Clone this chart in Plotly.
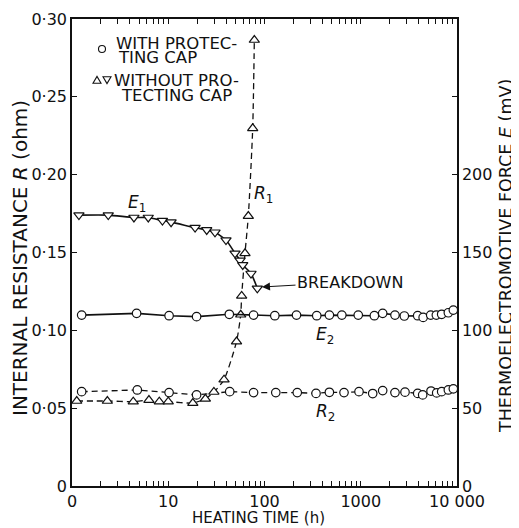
import plotly.graph_objects as go

# ---------------- data ----------------
# E1: thermo-EMF (mV), without protecting cap (inverted triangles)
e1_t = [1.18, 2.38, 4.4, 6.2, 8.7, 10.7, 19.0, 25.1, 30.6, 39.8, 49.4, 55.7, 59.4, 72.4, 84.2]
e1_v = [174, 174, 172.5, 172.5, 170.5, 169.5, 166, 164.5, 163, 158, 149.5, 145, 142, 136.5, 127]

# R1: internal resistance (ohm), without protecting cap (triangles)
r1_t = [1.12, 2.33, 4.33, 6.3, 8.07, 10.0, 18.0, 24.3, 29.8, 38.0, 51.2, 56.6, 57.9, 62.7, 67.9, 75.4, 78.4]
r1_v = [0.0546, 0.0546, 0.0542, 0.0552, 0.0542, 0.0542, 0.0533, 0.0560, 0.0604, 0.0683, 0.0928,
        0.1100, 0.1221, 0.1495, 0.1734, 0.2298, 0.2865]

# E2: thermo-EMF (mV), with protecting cap (circles)
e2_t = [1.26, 4.69, 10.2, 19.7, 43.1, 77, 128, 215, 349, 472, 636, 942, 1385, 1690, 2268, 2835,
        3905, 4450, 5330, 6100, 6930, 8130, 9160]
e2_v = [109.8, 110.9, 109.4, 108.8, 110.3, 109.8, 109.4, 109.8, 109.4, 109.8, 109.8, 109.8, 109.4,
        110.9, 109.8, 109.2, 109.4, 108.3, 109.8, 109.8, 110.3, 111.3, 113.0]

# R2: internal resistance (ohm), with protecting cap (circles)
r2_t = [1.26, 4.77, 10.2, 19.7, 43.5, 77, 131, 219, 343, 472, 670, 959, 1331, 1690, 2268, 2884,
        3905, 4400, 5370, 6150, 6930, 8130, 9160]
r2_v = [0.0606, 0.0617, 0.0600, 0.0585, 0.0606, 0.0600, 0.0600, 0.0600, 0.0595, 0.0602, 0.0600,
        0.0606, 0.0594, 0.0613, 0.0600, 0.0603, 0.0595, 0.0585, 0.0610, 0.0598, 0.0606, 0.0617, 0.0624]

# axis ticks
x_major = [1, 10, 100, 1000, 10000]
x_major_text = ["0", "10", "100", "1000", "10 000"]
r_ticks = [0, 0.05, 0.10, 0.15, 0.20, 0.25, 0.30]
r_tick_text = ["0", "0·05", "0·10", "0·15", "0·20", "0·25", "0·30"]
e_ticks = [0, 50, 100, 150, 200, 250, 300]
e_tick_text = ["0", "50", "100", "150", "200", "", ""]

# ---------------- figure ----------------
FONT = "DejaVu Sans"
BLACK = "#111111"

x_tickvals, x_ticktext = [], []
for d in [1, 10, 100, 1000]:
    for m in range(1, 10):
        x_tickvals.append(d * m)
        x_ticktext.append(x_major_text[x_major.index(d)] if m == 1 else "")
x_tickvals.append(10000)
x_ticktext.append(x_major_text[-1])

fig = go.Figure()

mk_circle = dict(symbol="circle", size=8.5, color="white", line=dict(color=BLACK, width=1.2))
mk_up = dict(symbol="triangle-up", size=9, color="white", line=dict(color=BLACK, width=1.2))
mk_down = dict(symbol="triangle-down", size=9, color="white", line=dict(color=BLACK, width=1.2))

fig.add_trace(go.Scatter(x=r2_t, y=r2_v, mode="lines+markers", yaxis="y",
                         line=dict(color=BLACK, width=1.3, dash="6px,4px"), marker=mk_circle))
fig.add_trace(go.Scatter(x=r1_t, y=r1_v, mode="lines+markers", yaxis="y",
                         line=dict(color=BLACK, width=1.3, dash="6px,4px", shape="spline", smoothing=0.6),
                         marker=mk_up))
fig.add_trace(go.Scatter(x=e2_t, y=e2_v, mode="lines+markers", yaxis="y2",
                         line=dict(color=BLACK, width=1.6), marker=mk_circle))
fig.add_trace(go.Scatter(x=e1_t, y=e1_v, mode="lines+markers", yaxis="y2",
                         line=dict(color=BLACK, width=1.6, shape="spline", smoothing=0.6),
                         marker=mk_down))

# the page body adds an 8 px margin around the figure
OFF = 8
PX0, PX1, PY0, PY1 = 72, 457, 19, 486   # plot area in screen pixels
W, H = 519 - OFF, 528 - OFF
L, T = PX0 - OFF, PY0 - OFF
PW, PH = PX1 - PX0, PY1 - PY0
R, B = W - L - PW, H - T - PH


def px(xp):
    return (xp - PX0) / PW


def py(yp):
    return (PY1 - yp) / PH


common = dict(ticks="inside", ticklen=5, tickwidth=1, tickcolor=BLACK,
              showline=True, linewidth=1.5, linecolor=BLACK,
              showgrid=False, zeroline=False, tickfont=dict(size=16), automargin=False)

fig.update_layout(
    width=W, height=H,
    margin=dict(l=L, r=R, t=T, b=B, autoexpand=False),
    paper_bgcolor="white", plot_bgcolor="white",
    showlegend=False,
    font=dict(family=FONT, size=16, color=BLACK),
    xaxis=dict(type="log", range=[0, 4], tickvals=x_tickvals, ticktext=x_ticktext,
               mirror="ticks", **common),
    yaxis=dict(range=[0, 0.30], tickvals=r_ticks, ticktext=r_tick_text, **common),
    yaxis2=dict(range=[0, 300], tickvals=e_ticks, ticktext=e_tick_text, overlaying="y", side="right",
                **common),
)


def label(txt, xx, yy, size, xanchor="center", angle=0):
    return dict(text=txt, x=px(xx), y=py(yy), xref="paper", yref="paper", xanchor=xanchor,
                yanchor="middle", textangle=angle, showarrow=False, borderpad=0,
                font=dict(size=size))


ann = []
# axis titles
ann.append(label("INTERNAL RESISTANCE <i>R</i> (ohm)", 20, 258, 20, angle=-90))
ann.append(label("THERMOELECTROMOTIVE FORCE <i>E</i> (mV)", 506, 256, 17.5, angle=-90))
ann.append(label("HEATING TIME (h)", 258, 518, 15))
# legend text
for txt, xx, yy in [("WITH PROTEC-", 115, 43), ("TING CAP", 117, 58),
                    ("WITHOUT PRO-", 113, 80), ("TECTING CAP", 120, 95)]:
    ann.append(label(txt, xx, yy, 16.5, xanchor="left"))
# curve labels
for txt, xx, yy in [("<i>E</i><sub>1</sub>", 137, 203), ("<i>R</i><sub>1</sub>", 263, 194),
                    ("<i>E</i><sub>2</sub>", 325, 335), ("<i>R</i><sub>2</sub>", 325, 412)]:
    ann.append(label(txt, xx, yy, 17))
# breakdown arrow
ann.append(dict(text="BREAKDOWN", x=px(262), y=py(287), xref="paper", yref="paper",
                ax=88, ay=-5, axref="pixel", ayref="pixel", showarrow=True,
                arrowhead=2, arrowsize=1.6, arrowwidth=1, arrowcolor=BLACK, standoff=0,
                font=dict(size=16)))
fig.update_layout(annotations=ann)

# legend symbols drawn as shapes
shapes = []
cx, cy, rr = 102, 49, 3.5
shapes.append(dict(type="circle", xref="paper", yref="paper",
                   x0=px(cx - rr), x1=px(cx + rr), y0=py(cy + rr), y1=py(cy - rr),
                   line=dict(color=BLACK, width=1.1), fillcolor="white"))


def tri(cx, cy, up=True, s=4):
    if up:
        pts = [(cx - s, cy + s * 0.8), (cx + s, cy + s * 0.8), (cx, cy - s * 0.9)]
    else:
        pts = [(cx - s, cy - s * 0.8), (cx + s, cy - s * 0.8), (cx, cy + s * 0.9)]
    return "M " + " L ".join(f"{px(a):.5f},{py(b):.5f}" for a, b in pts) + " Z"


shapes.append(dict(type="path", xref="paper", yref="paper", path=tri(97, 80, True),
                   line=dict(color=BLACK, width=1.1)))
shapes.append(dict(type="path", xref="paper", yref="paper", path=tri(107, 80, False),
                   line=dict(color=BLACK, width=1.1)))
fig.update_layout(shapes=shapes)

fig.write_html("out.html")
